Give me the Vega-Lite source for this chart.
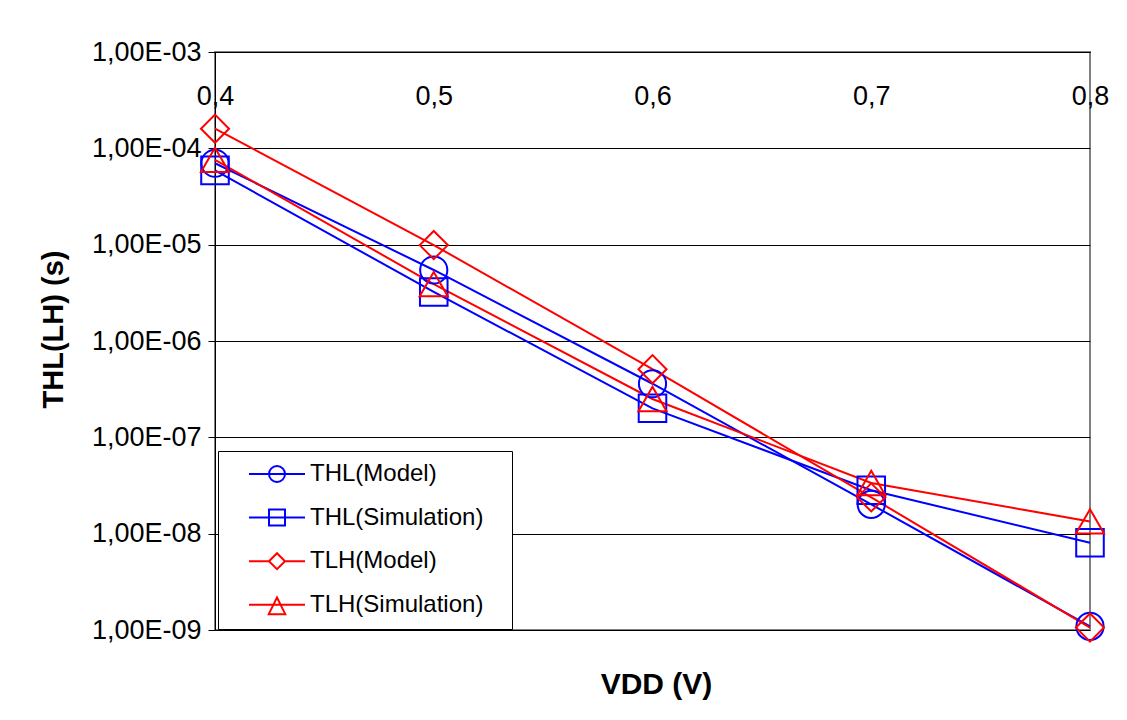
{
  "$schema": "https://vega.github.io/schema/vega-lite/v6.json",
  "autosize": {"type": "none"},
  "width": 875,
  "height": 578,
  "padding": {"left": 215, "top": 52, "right": 37, "bottom": 90},
  "background": "white",
  "config": {
    "view": {"stroke": "#808080", "strokeWidth": 2},
    "font": "Liberation Sans",
    "legend": {
      "orient": "none",
      "legendX": 3,
      "legendY": 399,
      "padding": 10,
      "strokeColor": "black",
      "fillColor": "white",
      "symbolSize": 576,
      "symbolStrokeWidth": 2,
      "symbolOpacity": 1,
      "symbolOffset": 36,
      "labelOffset": 20,
      "rowPadding": 17.6,
      "labelFont": "Liberation Sans",
      "labelFontSize": 24,
      "labelColor": "black",
      "labelLimit": 400,
      "titleOrient": "right",
      "titlePadding": 19,
      "titleFontSize": 1,
      "titleColor": "white"
    }
  },
  "data": {
    "values": [
      {"series": "THL(Model)", "vdd": 0.4, "t": 7.0e-5},
      {"series": "THL(Model)", "vdd": 0.5, "t": 5.46e-6},
      {"series": "THL(Model)", "vdd": 0.6, "t": 3.6e-7},
      {"series": "THL(Model)", "vdd": 0.7, "t": 2.01e-8},
      {"series": "THL(Model)", "vdd": 0.8, "t": 1.09e-9},
      {"series": "THL(Simulation)", "vdd": 0.4, "t": 5.9e-5},
      {"series": "THL(Simulation)", "vdd": 0.5, "t": 3.23e-6},
      {"series": "THL(Simulation)", "vdd": 0.6, "t": 2.0e-7},
      {"series": "THL(Simulation)", "vdd": 0.7, "t": 2.82e-8},
      {"series": "THL(Simulation)", "vdd": 0.8, "t": 8.05e-9},
      {"series": "TLH(Model)", "vdd": 0.4, "t": 1.6e-4},
      {"series": "TLH(Model)", "vdd": 0.5, "t": 9.9e-6},
      {"series": "TLH(Model)", "vdd": 0.6, "t": 5.1e-7},
      {"series": "TLH(Model)", "vdd": 0.7, "t": 2.38e-8},
      {"series": "TLH(Model)", "vdd": 0.8, "t": 1.06e-9},
      {"series": "TLH(Simulation)", "vdd": 0.4, "t": 7.6e-5},
      {"series": "TLH(Simulation)", "vdd": 0.5, "t": 3.9e-6},
      {"series": "TLH(Simulation)", "vdd": 0.6, "t": 2.5e-7},
      {"series": "TLH(Simulation)", "vdd": 0.7, "t": 3.36e-8},
      {"series": "TLH(Simulation)", "vdd": 0.8, "t": 1.34e-8}
    ]
  },
  "encoding": {
    "x": {
      "field": "vdd", "type": "quantitative",
      "scale": {"domain": [0.4, 0.8], "nice": false, "zero": false},
      "axis": {
        "orient": "top",
        "values": [0.4, 0.5, 0.6, 0.7, 0.8],
        "grid": false,
        "ticks": false,
        "tickSize": 0,
        "domainColor": "black",
        "domainWidth": 1,
        "labelPadding": -52,
        "labelBaseline": "alphabetic",
        "labelFontSize": 27,
        "labelFont": "Liberation Sans",
        "labelColor": "black",
        "labelFlush": false,
        "labelOverlap": false,
        "labelBound": false,
        "labelExpr": "replace(format(datum.value, '.1f'), '.', ',')",
        "title": "VDD (V)",
        "titleFont": "Liberation Sans",
        "titleFontSize": 30,
        "titleFontWeight": "bold",
        "titleColor": "black",
        "titleX": 441,
        "titleY": 641,
        "titleBaseline": "alphabetic",
        "titleAlign": "center"
      }
    },
    "y": {
      "field": "t", "type": "quantitative",
      "scale": {"type": "log", "domain": [1e-9, 1e-3], "nice": false},
      "axis": {
        "values": [1e-9, 1e-8, 1e-7, 1e-6, 1e-5, 1e-4, 1e-3],
        "grid": true,
        "gridColor": "black",
        "gridWidth": 1,
        "gridOpacity": 1,
        "domainColor": "black",
        "domainWidth": 1,
        "tickColor": "black",
        "tickSize": 7,
        "labelPadding": 7,
        "labelFontSize": 27,
        "labelFont": "Liberation Sans",
        "labelColor": "black",
        "labelFlush": false,
        "labelOverlap": false,
        "labelBound": false,
        "labelExpr": "'1,00E-' + (-round(log(datum.value) / LN10) < 10 ? '0' : '') + (-round(log(datum.value) / LN10))",
        "title": "THL(LH) (s)",
        "titleFont": "Liberation Sans",
        "titleFontSize": 29,
        "titleFontWeight": "bold",
        "titleColor": "black",
        "titleAngle": -90,
        "titleX": -162,
        "titleY": 277,
        "titleBaseline": "middle",
        "titleAlign": "center"
      }
    },
    "color": {
      "field": "series", "type": "nominal",
      "scale": {
        "domain": ["THL(Model)", "THL(Simulation)", "TLH(Model)", "TLH(Simulation)"],
        "range": ["#0000FF", "#0000FF", "#FF0000", "#FF0000"]
      },
      "legend": {"title": "\u00a0"}
    }
  },
  "layer": [
    {
      "mark": {"type": "line", "strokeWidth": 2},
      "encoding": {"detail": {"field": "series"}}
    },
    {
      "transform": [{"filter": "datum.series == 'THL(Model)'"}],
      "mark": {"type": "point", "shape": "circle", "filled": false, "size": 740, "strokeWidth": 2, "opacity": 1}
    },
    {
      "transform": [{"filter": "datum.series == 'THL(Simulation)'"}],
      "mark": {"type": "point", "shape": "square", "filled": false, "size": 760, "strokeWidth": 2, "opacity": 1}
    },
    {
      "transform": [{"filter": "datum.series == 'TLH(Model)'"}],
      "mark": {"type": "point", "shape": "diamond", "filled": false, "size": 790, "strokeWidth": 2, "opacity": 1}
    },
    {
      "transform": [{"filter": "datum.series == 'TLH(Simulation)'"}],
      "mark": {"type": "point", "shape": "triangle-up", "filled": false, "size": 790, "strokeWidth": 2, "opacity": 1}
    },
    {
      "mark": {"type": "point", "filled": false, "opacity": 0, "strokeWidth": 2},
      "encoding": {
        "shape": {
          "field": "series", "type": "nominal",
          "scale": {
            "domain": ["THL(Model)", "THL(Simulation)", "TLH(Model)", "TLH(Simulation)"],
            "range": [
              "M-2.333,0L2.333,0M0.667,0A0.667,0.667,0,1,1,-0.667,0A0.667,0.667,0,1,1,0.667,0Z",
              "M-2.333,0L2.333,0M-0.667,-0.667L0.667,-0.667L0.667,0.667L-0.667,0.667Z",
              "M-2.333,0L-0.667,0M0.667,0L2.333,0M-0.667,0L0,-0.667L0.667,0L0,0.667Z",
              "M-2.333,0L2.333,0M0,-0.61L-0.69,0.78L0.69,0.78Z"
            ]
          },
          "legend": {"title": "\u00a0"}
        }
      }
    }
  ]
}
